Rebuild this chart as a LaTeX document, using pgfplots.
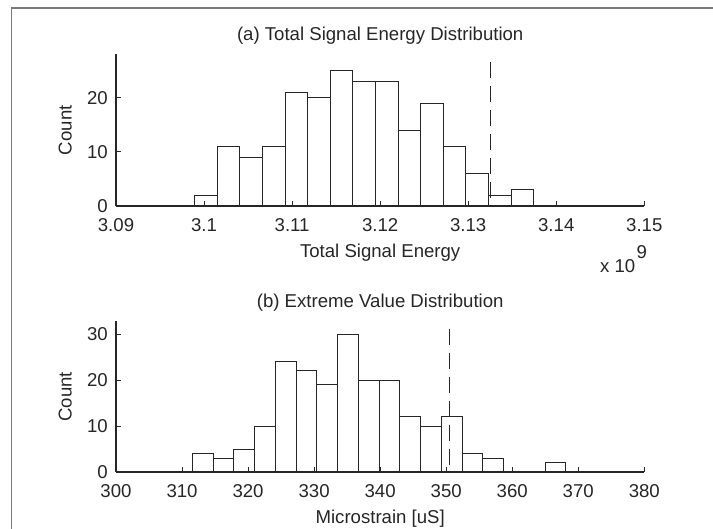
\documentclass[border=0pt]{standalone}
\usepackage{fontspec}
\setmainfont{Liberation Sans}
\usepackage{pgfplots}
\pgfplotsset{compat=1.18}
\usepackage{pgfplotstable}

\definecolor{ink}{HTML}{262626}
\definecolor{framegray}{HTML}{7A7A7A}
\newcommand\lbl{\fontsize{18.6pt}{22pt}\selectfont}

% histogram bin edges and counts (last row closes the final bin)
\pgfplotstableread{
edge    count
3.09892 2
3.10149 11
3.10405 9
3.10662 11
3.10919 21
3.11176 20
3.11432 25
3.11689 23
3.11946 23
3.12203 14
3.12459 19
3.12716 11
3.12973 6
3.13230 2
3.13486 3
3.13743 3
}\energy

\pgfplotstableread{
edge   count
311.56 4
314.70 3
317.84 5
320.98 10
324.12 24
327.27 22
330.41 19
333.55 30
336.69 20
339.83 20
342.97 12
346.11 10
349.25 12
352.39 4
355.53 3
358.68 0
361.82 0
364.96 2
368.10 2
}\extreme

\pgfplotsset{histaxis/.style={
  scale only axis, width=528.3pt,
  axis lines*=left, axis on top,
  axis line style={ink, line width=1.1pt},
  tick align=inside, major tick length=5pt,
  tick style={ink, line width=1pt},
  xticklabel style={anchor=base, yshift=-25.7pt, font=\lbl, text=ink},
  yticklabel style={anchor=east, inner sep=0pt, xshift=-8pt, font=\lbl, text=ink},
  /pgf/number format/assume math mode=true,
  clip=false,
}}

\begin{document}
\begin{tikzpicture}
\path[use as bounding box] (0,0) rectangle (713pt,529pt);
\draw[framegray, line width=1.5pt] (11.7pt,-2pt) -- (11.7pt,521pt) -- (715pt,521pt);

% (a) total signal energy
\begin{axis}[histaxis,
  at={(116pt,323pt)}, anchor=south west, height=151.7pt,
  xmin=3.09, xmax=3.15, ymin=0, ymax=28,
  xtick={3.09,3.10,3.11,3.12,3.13,3.14,3.15},
  xticklabels={3.09,3.1,3.11,3.12,3.13,3.14,3.15},
  ytick={0,10,20}, yticklabels={0,10,20}]
\addplot[ybar interval, draw=ink, fill=white, line width=0.9pt]
  table[x=edge, y=count]{\energy};
\addplot[ink, line width=1pt, dash pattern=on 16pt off 8pt]
  coordinates {(3.1325,26.5) (3.1325,0)};
\end{axis}

% (b) extreme value
\begin{axis}[histaxis,
  at={(116pt,57pt)}, anchor=south west, height=150.7pt,
  xmin=300, xmax=380, ymin=0, ymax=32.8,
  xtick={300,310,320,330,340,350,360,370,380},
  xticklabels={300,310,320,330,340,350,360,370,380},
  ytick={0,10,20,30}, yticklabels={0,10,20,30}]
\addplot[ybar interval, draw=ink, fill=white, line width=0.9pt]
  table[x=edge, y=count]{\extreme};
\addplot[ink, line width=1pt, dash pattern=on 16pt off 8pt]
  coordinates {(350.5,31.2) (350.5,0)};
\end{axis}

\begin{scope}[every node/.style={font=\lbl, text=ink, inner sep=0pt}]
\node[anchor=base] at (380.2pt,488.7pt) {(a) Total Signal Energy Distribution};
\node[anchor=base] at (380.2pt,271.7pt) {Total Signal Energy};
\node[anchor=base west] at (600pt,256.3pt) {x 10};
\node[anchor=base west] at (636.5pt,270.7pt) {9};
\node[rotate=90, anchor=base] at (71.7pt,398.8pt) {Count};
\node[anchor=base] at (380.2pt,221.7pt) {(b) Extreme Value Distribution};
\node[anchor=base] at (380.2pt,5.7pt) {Microstrain [uS]};
\node[rotate=90, anchor=base] at (71.7pt,132.3pt) {Count};
\end{scope}
\end{tikzpicture}
\end{document}
